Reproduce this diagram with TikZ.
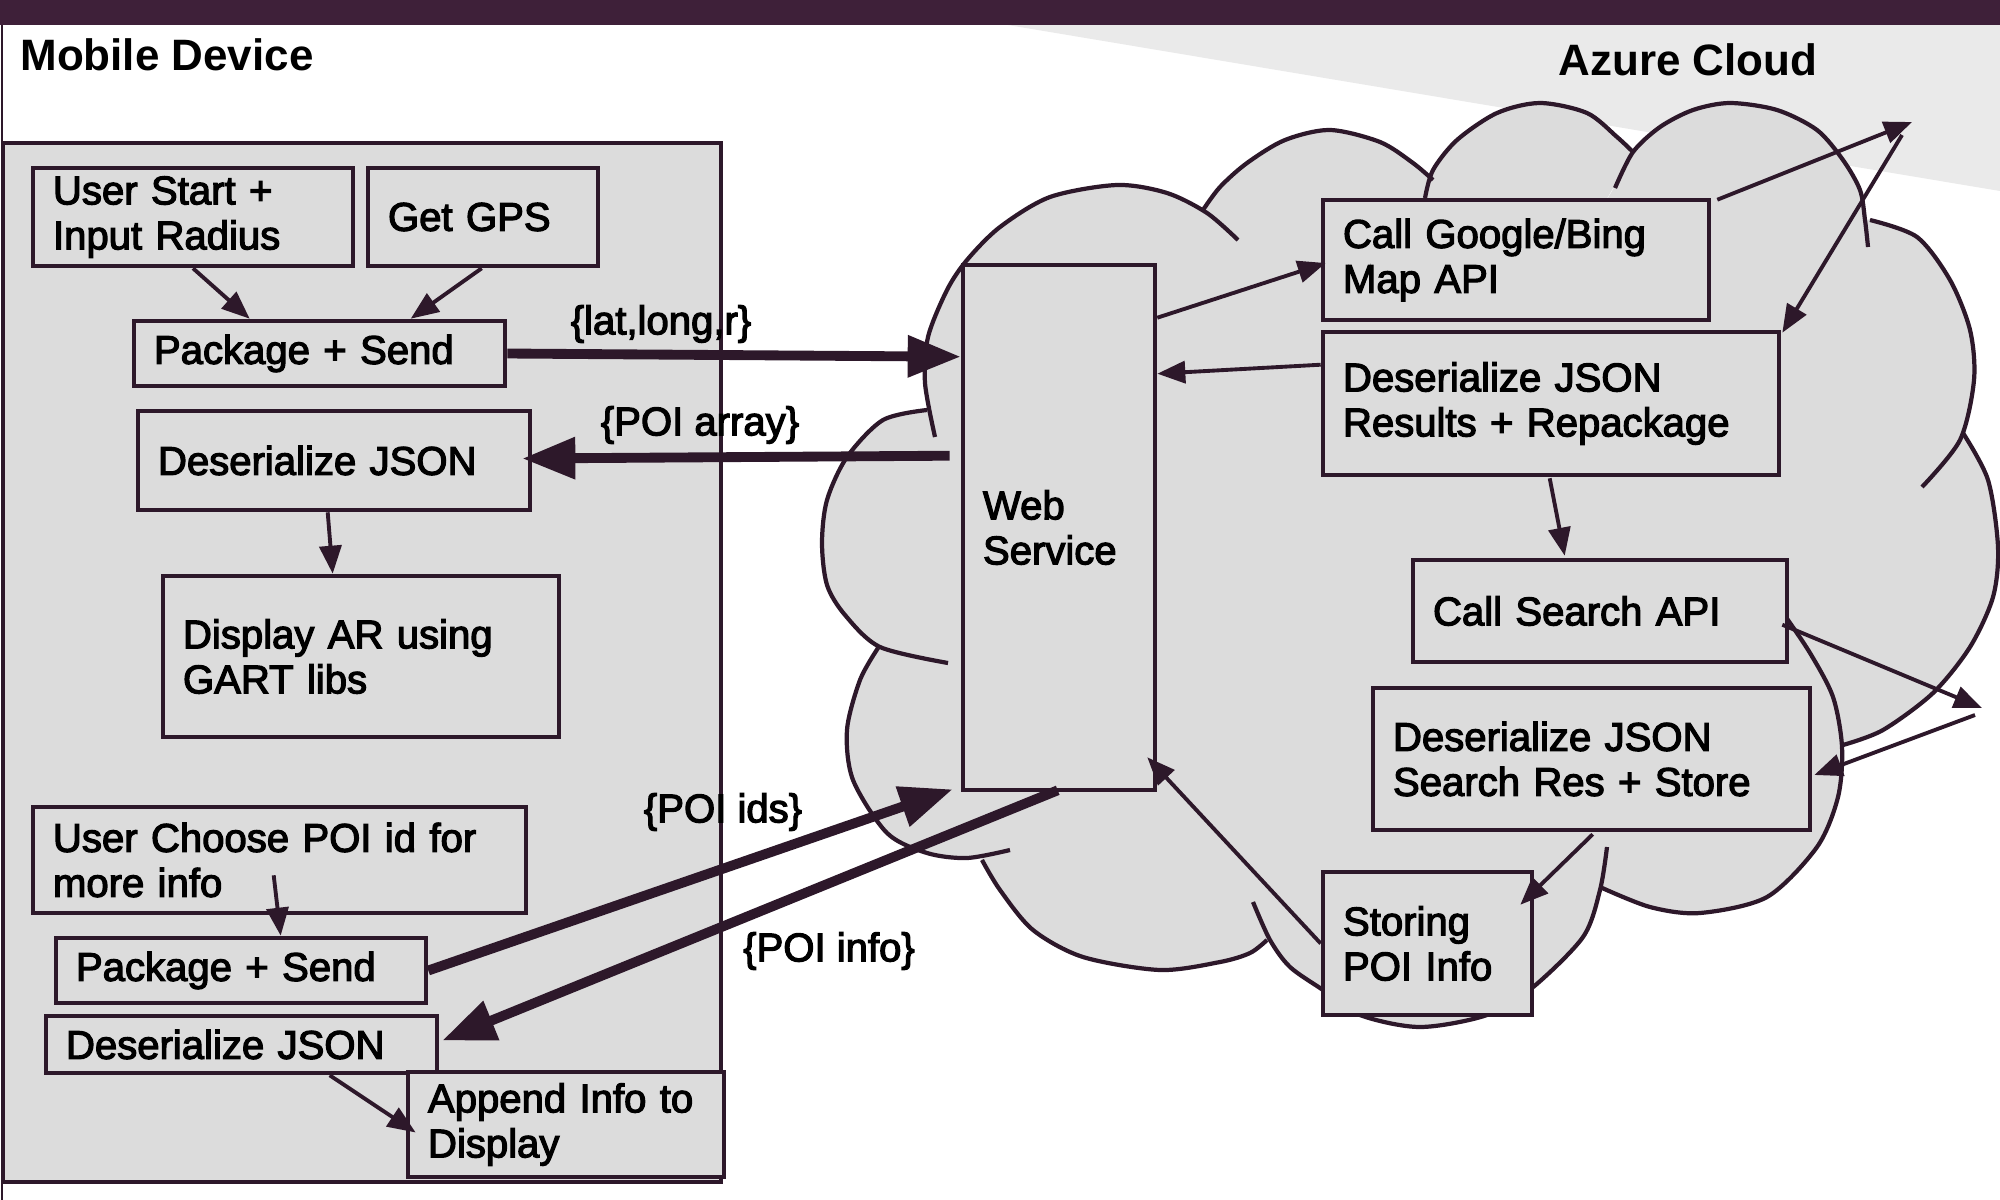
\documentclass[tikz,border=0pt]{standalone}
\usepackage{fontspec}
\setmainfont{Liberation Sans}
\newfontfamily\boxfont{Liberation Sans}[FakeBold=3]
\usetikzlibrary{arrows.meta,calc}
\definecolor{ink}{RGB}{45,24,42}
\definecolor{boxgray}{RGB}{220,220,220}
\definecolor{trigray}{RGB}{234,234,234}
\definecolor{barcol}{RGB}{62,32,57}
\newcommand\bbox[6]{%
  \pgfmathsetmacro\bcx{(#2+#4)/2}\pgfmathsetmacro\bcy{(#3+#5)/2}%
  \pgfmathsetmacro\bww{(#4-#2)*0.01}\pgfmathsetmacro\bhh{(#5-#3)*0.01}%
  \pgfmathsetmacro\btw{(#4-#2-40)*0.01}%
  \node[box, minimum width=\bww cm, minimum height=\bhh cm, text width=\btw cm] (#1) at (\bcx,\bcy) {#6};}
\newcommand\lobefill[1]{\filldraw[cloudfill] plot[smooth] coordinates{#1} -- (1400,550) -- cycle;}
\newcommand\lobedraw[1]{\draw[cloudline] plot[smooth] coordinates{#1};}
\newcommand\cloudlobes{%
  \lobe{(935,437) (925,383) (928,337) (947,290) (967,260) (1000,227) (1050,197) (1117,185) (1167,193) (1207,213) (1238,240)}
  \lobe{(1203,210) (1220,187) (1247,163) (1285,140) (1330,130) (1380,142) (1413,163) (1433,180)}
  \lobe{(1425,198) (1433,170) (1457,140) (1497,113) (1540,103) (1587,113) (1617,137) (1633,152)}
  \lobe{(1615,188) (1633,152) (1660,127) (1693,110) (1730,103) (1777,110) (1817,130) (1843,160) (1860,190) (1865,220) (1868,247)}
  \lobe{(1870,220) (1917,237) (1950,280) (1970,330) (1974,380) (1960,440) (1922,487)}
  \lobe{(1963,433) (1988,480) (1998,547) (1993,597) (1970,647) (1933,693) (1883,730) (1843,745)}
  \lobe{(1783,613) (1810,653) (1833,697) (1842,747) (1838,797) (1817,847) (1767,897) (1700,913) (1650,907) (1600,887)}
  \lobe{(1253,902) (1270,940) (1290,967) (1323,990) (1360,1015) (1420,1027) (1487,1015) (1532,988) (1583,937) (1600,890) (1607,847)}
  \lobe{(982,860) (1000,890) (1033,930) (1083,957) (1160,970) (1220,962) (1250,953) (1267,940)}
  \lobe{(878,648) (860,680) (847,730) (853,780) (887,833) (927,853) (967,858) (1010,850)}
  \lobe{(927,410) (883,420) (847,457) (827,500) (822,543) (827,585) (845,615) (880,647) (948,663)}
}
\begin{document}
\begin{tikzpicture}[x=0.01cm, y=-0.01cm,
  box/.style={draw=ink, fill=boxgray, line width=1.3pt, inner xsep=0.2cm, inner ysep=0pt,
    align=left, font=\boxfont\fontsize{11.4}{12.8}\selectfont, text=black},
  cloudfill/.style={fill=boxgray, draw=boxgray, line width=0.6pt},
  cloudline/.style={draw=ink, line width=1.2pt},
  bigarrow/.style={draw=ink, line width=2.8pt, -{Triangle[length=0.53cm,width=0.40cm]}},
  smallarrow/.style={draw=ink, line width=1.1pt, -{Triangle[length=0.28cm,width=0.22cm]}},
  lbl/.style={font=\boxfont\fontsize{11.4}{12.8}\selectfont, text=black, inner sep=0pt},
  titletext/.style={font=\fontsize{12.5}{14}\selectfont\bfseries, text=black, inner sep=0pt}]
\useasboundingbox (0,0) rectangle (2000,1200);
\fill[white] (0,0) rectangle (2000,1200);
% background decorations
\fill[trigray] (1008,25) -- (2000,25) -- (2000,191) -- cycle;
\fill[barcol] (0,0) rectangle (2000,25);
\draw[ink, line width=0.8pt] (2,25) -- (2,1200);
% cloud
\let\lobe\lobefill \cloudlobes
\let\lobe\lobedraw \cloudlobes
% titles
\node[titletext] (tmob) at (167,55) {Mobile Device};
\node[titletext] (taz) at (1688,60) {Azure Cloud};
% mobile device
\bbox{mob}{3}{143}{721}{1182}{}
\bbox{us}{33}{168}{353}{266}{User Start +\\Input Radius}
\bbox{gps}{368}{168}{598}{266}{Get GPS}
\bbox{ps1}{134}{321}{505}{386}{Package + Send}
\bbox{dj1}{138}{411}{530}{510}{Deserialize JSON}
\bbox{ar}{163}{576}{559}{737}{Display AR using\\GART libs}
\bbox{uc}{33}{807}{526}{913}{User Choose POI id for\\more info}
\bbox{ps2}{56}{938}{426}{1003}{Package + Send}
\bbox{dj2}{46}{1016}{437}{1073}{Deserialize JSON}
\bbox{app}{408}{1072}{724}{1177}{Append Info to\\Display}
% cloud boxes
\bbox{ws}{963}{265}{1155}{790}{Web\\Service}
\bbox{cg}{1323}{200}{1709}{320}{Call Google/Bing\\Map API}
\bbox{dr}{1323}{332}{1779}{475}{Deserialize JSON\\Results + Repackage}
\bbox{cs}{1413}{560}{1787}{662}{Call Search API}
\bbox{dsr}{1373}{688}{1810}{830}{Deserialize JSON\\Search Res + Store}
\bbox{st}{1323}{872}{1532}{1015}{Storing\\POI Info}
% free ends
\coordinate (c1) at (1912,122);
\coordinate (c2) at (1902,135);
\coordinate (c3) at (1982,708);
\coordinate (c4) at (1975,715);
% mobile connectors
\draw[smallarrow] (us.south) -- ($(ps1.north west)+(118,0)$);
\draw[smallarrow] ($(gps.south west)+(116,0)$) -- ($(ps1.north west)+(279,0)$);
\draw[bigarrow] (ps1.east) -- ($(ws.north west)+(0,94)$);
\draw[bigarrow] ($(ws.north west)+(-11,193)$) -- ($(dj1.east)+(-10,-2)$);
\draw[smallarrow] ($(dj1.south west)+(192,0)$) -- ($(ar.north west)+(172,0)$);
\draw[smallarrow] ($(uc.south west)+(243,-40)$) -- ($(ps2.north west)+(227,0)$);
\draw[bigarrow] (ps2.east) -- ($(ws.south west)+(-8,-3)$);
\draw[bigarrow] ($(ws.south west)+(97,-2)$) -- ($(dj2.east)+(3,-4)$);
\draw[smallarrow] ($(dj2.south west)+(286,0)$) -- ($(app.west)+(10,8)$);
% cloud connectors
\draw[smallarrow] ($(ws.north east)+(0,55)$) -- ($(cg.west)+(5,3)$);
\draw[smallarrow] ($(cg.north east)+(6,2)$) -- (c1);
\draw[smallarrow] (c2) -- ($(dr.north east)+(1,3)$);
\draw[smallarrow] ($(dr.north west)+(0,35)$) -- ($(ws.north east)+(0,111)$);
\draw[smallarrow] ($(dr.south west)+(229,1)$) -- ($(cs.north west)+(154,-2)$);
\draw[smallarrow] ($(cs.north east)+(-7,67)$) -- (c3);
\draw[smallarrow] (c4) -- ($(dsr.east)+(2,16)$);
\draw[smallarrow] ($(dsr.south west)+(222,2)$) -- ($(st.north east)+(-14,35)$);
\draw[smallarrow] (st.west) -- ($(ws.south east)+(-10,-35)$);
% labels
\node[lbl] (l1) at (661,324) {\{lat,long,r\}};
\node[lbl] (l2) at (700,425) {\{POI array\}};
\node[lbl] (l3) at (723,812) {\{POI ids\}};
\node[lbl] (l4) at (829,951) {\{POI info\}};
\end{tikzpicture}
\end{document}
